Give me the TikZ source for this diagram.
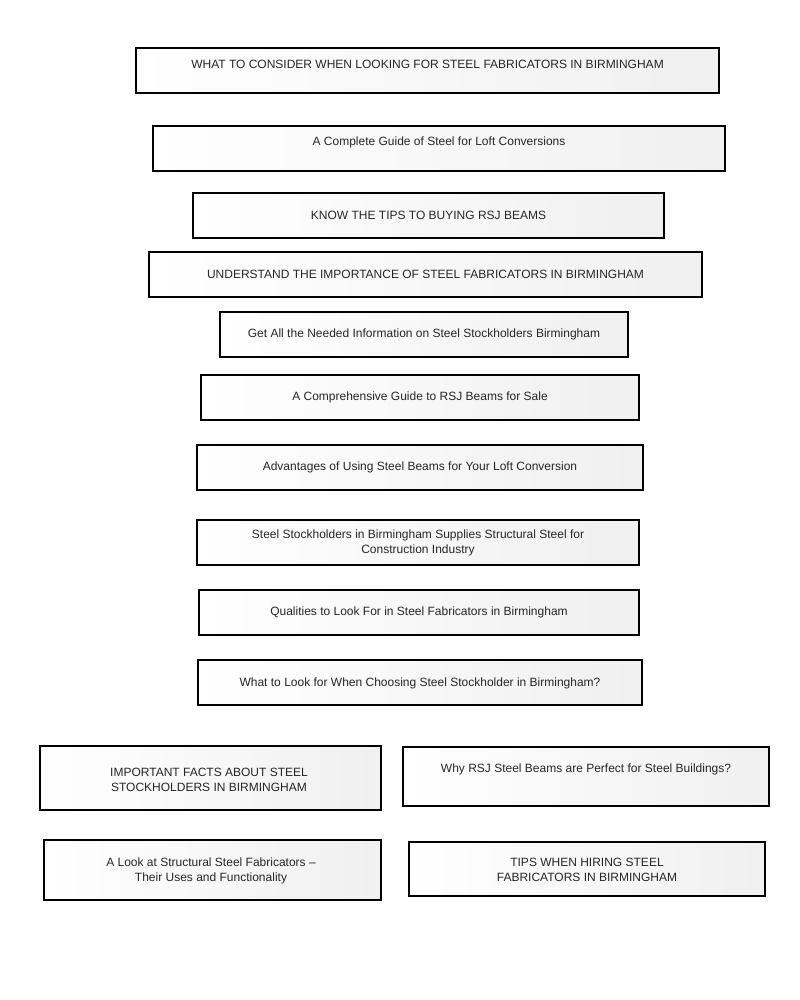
\documentclass[tikz,border=0pt]{standalone}
\usepackage{fontspec}
\setmainfont{Liberation Sans}
\begin{document}
\begin{tikzpicture}[x=0.75pt,y=-0.75pt,
  box/.style={draw=black, line width=1.5pt, left color=white, right color=black!6, inner sep=0pt},
  txt/.style={text=black!85, font=\fontsize{9}{11.25}\selectfont, align=center, inner sep=0pt, anchor=center}]
\useasboundingbox (0,0) rectangle (800,1000);
\node[box, minimum width=583*0.75pt, minimum height=45*0.75pt] (b1) at (427.5,70.5) {};
\node[txt] (t1) at (427.5,64.5) {WHAT TO CONSIDER WHEN LOOKING FOR STEEL FABRICATORS IN BIRMINGHAM};
\node[box, minimum width=572*0.75pt, minimum height=45*0.75pt] (b2) at (439,148.5) {};
\node[txt] (t2) at (439,142.5) {A Complete Guide of Steel for Loft Conversions};
\node[box, minimum width=471*0.75pt, minimum height=45*0.75pt] (b3) at (428.5,215.5) {};
\node[txt] (t3) at (428.5,215.5) {KNOW THE TIPS TO BUYING RSJ BEAMS};
\node[box, minimum width=553*0.75pt, minimum height=45*0.75pt] (b4) at (425.5,274.5) {};
\node[txt] (t4) at (425.5,274.5) {UNDERSTAND THE IMPORTANCE OF STEEL FABRICATORS IN BIRMINGHAM};
\node[box, minimum width=408*0.75pt, minimum height=45*0.75pt] (b5) at (424,334.5) {};
\node[txt] (t5) at (424,334.5) {Get All the Needed Information on Steel Stockholders Birmingham};
\node[box, minimum width=438*0.75pt, minimum height=45*0.75pt] (b6) at (420,397.5) {};
\node[txt] (t6) at (420,397.5) {A Comprehensive Guide to RSJ Beams for Sale};
\node[box, minimum width=446*0.75pt, minimum height=45*0.75pt] (b7) at (420,467.5) {};
\node[txt] (t7) at (420,467.5) {Advantages of Using Steel Beams for Your Loft Conversion};
\node[box, minimum width=442*0.75pt, minimum height=45*0.75pt] (b8) at (418,542.5) {};
\node[txt] (t8) at (418,543) {Steel Stockholders in Birmingham Supplies Structural Steel for\\Construction Industry};
\node[box, minimum width=440*0.75pt, minimum height=45*0.75pt] (b9) at (419,612.5) {};
\node[txt] (t9) at (419,612.5) {Qualities to Look For in Steel Fabricators in Birmingham};
\node[box, minimum width=444*0.75pt, minimum height=45*0.75pt] (b10) at (420,682.5) {};
\node[txt] (t10) at (420,683.5) {What to Look for When Choosing Steel Stockholder in Birmingham?};
\node[box, minimum width=341*0.75pt, minimum height=64*0.75pt] (b11) at (210.5,778) {};
\node[txt] (t11) at (209,780) {IMPORTANT FACTS ABOUT STEEL\\STOCKHOLDERS IN BIRMINGHAM};
\node[box, minimum width=366*0.75pt, minimum height=59*0.75pt] (b12) at (586,776.5) {};
\node[txt] (t12) at (586,769.5) {Why RSJ Steel Beams are Perfect for Steel Buildings?};
\node[box, minimum width=337*0.75pt, minimum height=60*0.75pt] (b13) at (212.5,870) {};
\node[txt] (t13) at (211,871) {A Look at Structural Steel Fabricators --\\Their Uses and Functionality};
\node[box, minimum width=356*0.75pt, minimum height=54*0.75pt] (b14) at (587,869) {};
\node[txt] (t14) at (587,870) {TIPS WHEN HIRING STEEL\\FABRICATORS IN BIRMINGHAM};
\end{tikzpicture}
\end{document}
